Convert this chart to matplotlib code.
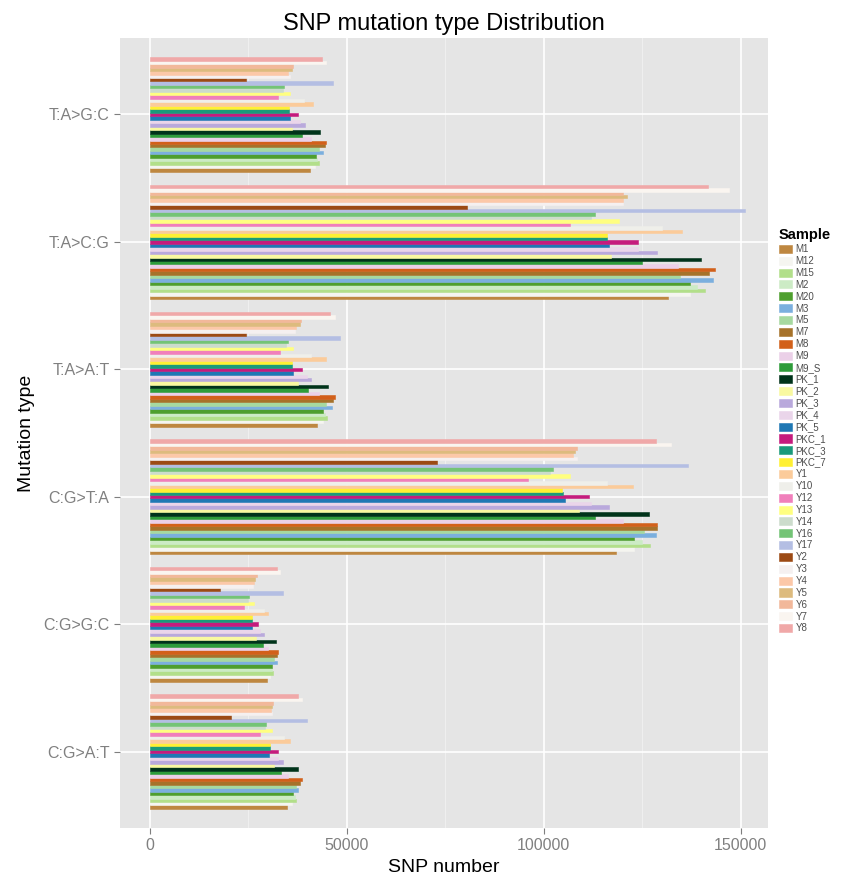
import matplotlib
matplotlib.use("Agg")
import matplotlib.pyplot as plt
import numpy as np

plt.rcParams['font.family'] = ['Liberation Sans', 'DejaVu Sans']

# Mutation types, bottom to top on the y axis
mutation_types = ["C:G>A:T", "C:G>G:C", "C:G>T:A", "T:A>A:T", "T:A>C:G", "T:A>G:C"]

samples = ["M1", "M12", "M15", "M2", "M20", "M3", "M5", "M7", "M8", "M9", "M9_S",
           "PK_1", "PK_2", "PK_3", "PK_4", "PK_5", "PKC_1", "PKC_3", "PKC_7",
           "Y1", "Y10", "Y12", "Y13", "Y14", "Y16", "Y17", "Y2", "Y3", "Y4",
           "Y5", "Y6", "Y7", "Y8"]

sample_colors = ["#BE8740", "#F5F5F0", "#B2DF8A", "#CCEBC5", "#4E9F2E", "#7BAFDE",
                 "#A6D9A0", "#A6722A", "#D2601A", "#EBD0E8", "#2E9C3A",
                 "#00331A", "#F9F9A0", "#B9A9DC", "#EAD5EA", "#1F78B4",
                 "#C51B7D", "#1A9A7A", "#FFF033",
                 "#FBCB9A", "#EFEFEA", "#F07FBB", "#FFFF80", "#CCDCCC", "#74C476",
                 "#B4BEE3", "#9C4A14", "#F5F0F0", "#FCC8A8", "#DDBB7E", "#F2B89A",
                 "#FAF5F0", "#F0A8A8"]

# SNP counts per sample (same order as samples), one list per mutation type
cg_at = [34900, 36000, 37200, 36800, 36200, 37600, 37000, 38000, 38500, 35000, 33400,
         37600, 31500, 33800, 32500, 30300, 32600, 30500, 30500,
         35500, 34000, 27900, 31000, 29200, 29400, 40000, 20700, 30900, 30700,
         30900, 31300, 38500, 37600]
cg_gc = [29600, 30500, 31300, 31000, 31100, 32200, 31500, 32300, 32600, 30000, 28600,
         32000, 27000, 29000, 28000, 26000, 27500, 25800, 25800,
         30000, 29000, 24000, 26500, 25000, 25200, 33800, 17900, 26200, 26400,
         26600, 27100, 33000, 32200]
cg_ta = [118400, 123000, 127000, 125000, 123000, 128400, 125500, 128600, 128700, 120000, 113000,
         126600, 109000, 116500, 112000, 105300, 111500, 104900, 104500,
         122600, 116000, 96000, 106600, 101500, 102300, 136600, 72800, 108300, 107400,
         107900, 108300, 132400, 128400]
ta_at = [42300, 44000, 45000, 44500, 44000, 46100, 44800, 46500, 47000, 43000, 40200,
         45200, 37500, 41000, 40000, 36200, 38700, 36000, 36000,
         44700, 41000, 33000, 36300, 34600, 35000, 48200, 24400, 36800, 37200,
         38000, 38300, 47000, 45700]
ta_cg = [131500, 137000, 141000, 139000, 137000, 143000, 134500, 142000, 143400, 134000, 125000,
         140000, 117000, 128600, 124000, 116500, 124000, 116000, 116000,
         135000, 130000, 106600, 119000, 112000, 113000, 151000, 80400, 120000, 120000,
         121000, 120000, 147000, 141600]
ta_gc = [40600, 42000, 43000, 42500, 42100, 44000, 43000, 44400, 44700, 41000, 38500,
         43100, 36000, 39300, 38000, 35500, 37600, 35300, 35300,
         41400, 39000, 32500, 35500, 33800, 34000, 46500, 24400, 35500, 35000,
         36000, 36200, 44800, 43600]

counts = np.array([cg_at, cg_gc, cg_ta, ta_at, ta_cg, ta_gc])  # (types, samples)

fig = plt.figure(figsize=(8.67, 8.84), dpi=100)
ax = fig.add_axes([0.1384, 0.0633, 0.7474, 0.8937])
ax.set_facecolor("#E5E5E5")

n = len(samples)
group_w = 0.9
bar_h = group_w / n
pos = np.arange(1, len(mutation_types) + 1)

handles = []
for i, (s, c) in enumerate(zip(samples, sample_colors)):
    y = pos - group_w / 2 + (i + 0.5) * bar_h
    h = ax.barh(y, counts[:, i], height=bar_h, color=c, edgecolor=c,
                linewidth=0.4, label=s, zorder=3)
    handles.append(h)

ax.set_xlim(-7600, 156900)
ax.set_ylim(0.4, 6.6)
ax.set_yticks(pos)
ax.set_yticklabels(mutation_types)
ax.set_xticks([0, 50000, 100000, 150000])
ax.set_xticklabels(["0", "50000", "100000", "150000"])
ax.set_xticks([25000, 75000, 125000], minor=True)

ax.grid(True, which="major", color="white", linewidth=1.2, zorder=1)
ax.grid(True, which="minor", axis="x", color="#F2F2F2", linewidth=0.6, zorder=1)
for sp in ax.spines.values():
    sp.set_visible(False)
ax.tick_params(axis="both", which="major", colors="#7F7F7F", labelsize=11.5, length=4, width=0.8)
ax.tick_params(axis="both", which="major", labelcolor="#808080")
ax.tick_params(axis="x", which="minor", length=0)

ax.set_xlabel("SNP number", fontsize=14, labelpad=4)
ax.set_ylabel("Mutation type", fontsize=14, labelpad=6)
ax.set_title("SNP mutation type Distribution", fontsize=17, pad=6)

leg = fig.legend(handles=handles, labels=samples, loc="upper left",
                 bbox_to_anchor=(0.894, 0.746), frameon=False, fontsize=7,
                 title="Sample", title_fontproperties={"weight": "bold", "size": 10.5},
                 handlelength=1.3, handleheight=0.9, labelspacing=0.19,
                 handletextpad=0.4, borderaxespad=0, alignment="left")
for t in leg.get_texts():
    t.set_color("#4D4D4D")

fig.savefig("out.png", dpi=100)
